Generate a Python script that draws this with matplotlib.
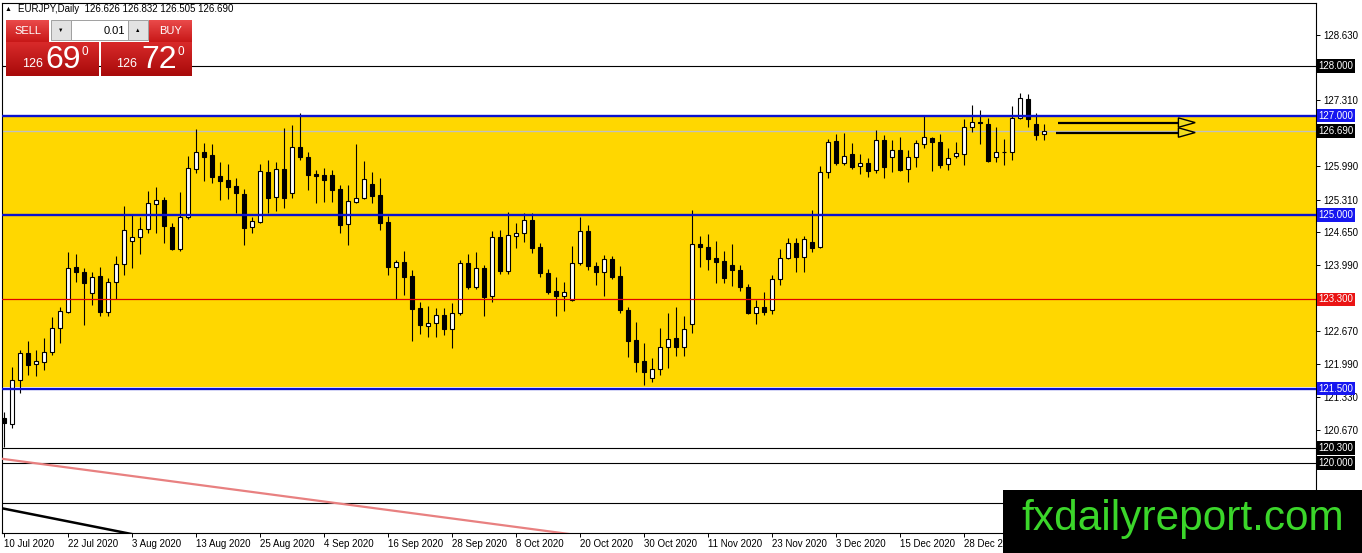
import numpy as np
import matplotlib
matplotlib.use("Agg")
import matplotlib.pyplot as plt
from matplotlib.patches import Rectangle, Polygon
from matplotlib.colors import LinearSegmentedColormap

plt.rcParams['font.family'] = ['Liberation Sans', 'DejaVu Sans']

# EURJPY daily bars, 10 Jul 2020 onwards
opens = [120.90, 120.78, 121.67, 122.21, 121.99, 122.03, 122.23, 122.72, 123.04, 123.95,
         123.85, 123.42, 123.77, 123.04, 123.65, 124.01, 124.47, 124.55, 124.71, 125.22,
         125.30, 124.75, 124.31, 124.96, 125.92, 126.27, 126.21, 125.78, 125.70, 125.58,
         125.42, 124.75, 124.86, 125.86, 125.36, 125.92, 125.44, 126.37, 126.17, 125.83,
         125.80, 125.80, 125.52, 124.81, 125.26, 125.34, 125.62, 125.40, 124.86, 123.95,
         124.05, 123.77, 123.12, 122.76, 122.82, 122.98, 122.70, 123.02, 124.03, 123.54,
         123.93, 123.36, 124.55, 123.87, 124.57, 124.63, 124.89, 124.35, 123.83, 123.46,
         123.36, 123.28, 124.03, 124.67, 123.97, 123.85, 124.11, 123.77, 123.08, 122.48,
         122.05, 121.71, 121.89, 122.33, 122.52, 122.33, 122.80, 124.41, 124.35, 124.13,
         124.07, 123.99, 123.89, 123.54, 123.02, 123.14, 123.08, 123.71, 124.13, 124.43,
         124.15, 124.45, 124.35, 125.86, 126.49, 126.04, 126.23, 125.98, 126.04, 125.90,
         126.51, 126.17, 126.31, 125.92, 126.17, 126.43, 126.55, 126.47, 126.02, 126.19,
         126.23, 126.77, 126.88, 126.83, 126.17, 126.27, 126.27, 126.95, 127.33, 126.83,
         126.626]
highs = [121.02, 121.93, 122.27, 122.46, 122.27, 122.52, 122.94, 123.14, 124.25, 124.21,
         123.93, 123.85, 123.95, 123.73, 124.17, 125.18, 125.00, 124.96, 125.48, 125.56,
         125.36, 124.83, 125.46, 126.19, 126.73, 126.45, 126.43, 126.06, 126.02, 125.74,
         125.52, 124.96, 126.03, 126.10, 126.06, 126.75, 126.81, 127.05, 126.27, 125.90,
         125.94, 125.90, 125.60, 125.60, 126.43, 126.08, 125.86, 125.74, 124.98, 124.09,
         124.27, 123.89, 123.24, 123.16, 123.12, 123.12, 123.22, 124.09, 124.21, 124.25,
         123.99, 124.67, 124.69, 125.06, 124.83, 125.04, 125.04, 124.43, 123.91, 123.75,
         123.65, 124.37, 124.96, 124.79, 124.05, 124.19, 124.17, 123.97, 123.14, 122.84,
         122.42, 122.11, 122.72, 123.02, 123.14, 122.96, 125.10, 124.57, 124.61, 124.47,
         124.27, 124.41, 123.99, 123.60, 123.28, 123.44, 123.79, 124.31, 124.53, 124.53,
         124.57, 125.10, 125.99, 126.53, 126.63, 126.65, 126.45, 126.23, 126.15, 126.71,
         126.61, 126.51, 126.57, 126.31, 126.51, 127.01, 126.57, 126.63, 126.35, 126.47,
         126.93, 127.21, 127.11, 126.95, 126.77, 126.53, 127.19, 127.45, 127.43, 127.05,
         126.832]
lows = [120.32, 120.70, 121.41, 121.77, 121.75, 121.87, 122.17, 122.42, 123.02, 123.65,
        122.78, 123.18, 122.96, 122.96, 123.30, 123.79, 123.93, 124.21, 124.63, 124.63,
        124.43, 124.29, 124.27, 124.92, 125.84, 125.68, 125.64, 125.30, 125.32, 125.04,
        124.39, 124.63, 124.84, 125.04, 125.08, 125.14, 125.34, 126.10, 125.50, 125.24,
        125.26, 125.26, 124.63, 124.39, 125.24, 125.32, 125.24, 124.69, 123.79, 123.30,
        123.38, 122.46, 122.60, 122.54, 122.54, 122.58, 122.31, 122.98, 123.50, 123.50,
        122.96, 123.24, 123.81, 123.81, 124.33, 124.45, 124.23, 123.75, 123.40, 122.96,
        123.06, 123.26, 123.99, 123.89, 123.58, 123.36, 123.71, 123.02, 122.13, 121.83,
        121.57, 121.63, 121.77, 121.91, 122.15, 122.15, 122.62, 123.95, 123.89, 123.63,
        123.63, 123.56, 123.46, 123.00, 122.80, 122.98, 123.00, 123.58, 124.11, 123.85,
        123.85, 124.25, 124.33, 125.74, 126.00, 126.00, 125.92, 125.82, 125.76, 125.84,
        125.74, 125.86, 125.88, 125.66, 125.96, 126.35, 125.88, 125.94, 125.90, 126.15,
        126.00, 126.67, 126.43, 126.06, 126.06, 126.00, 126.11, 126.93, 126.77, 126.51,
        126.505]
closes = [120.80, 121.67, 122.21, 121.97, 122.05, 122.23, 122.72, 123.06, 123.93, 123.85,
          123.63, 123.75, 123.04, 123.65, 124.01, 124.69, 124.55, 124.71, 125.24, 125.30,
          124.77, 124.31, 124.96, 125.94, 126.27, 126.17, 125.76, 125.68, 125.56, 125.44,
          124.73, 124.88, 125.88, 125.34, 125.92, 125.34, 126.37, 126.17, 125.80, 125.79,
          125.70, 125.50, 124.79, 125.28, 125.34, 125.72, 125.38, 124.83, 123.95, 124.05,
          123.75, 123.10, 122.78, 122.82, 122.98, 122.70, 123.02, 124.03, 123.54, 123.93,
          123.34, 124.55, 123.87, 124.59, 124.63, 124.89, 124.33, 123.83, 123.44, 123.36,
          123.44, 124.03, 124.67, 123.97, 123.85, 124.11, 123.75, 123.08, 122.46, 122.03,
          121.83, 121.89, 122.33, 122.50, 122.33, 122.70, 124.41, 124.35, 124.11, 124.05,
          123.73, 123.89, 123.54, 123.02, 123.14, 123.04, 123.71, 124.13, 124.43, 124.15,
          124.51, 124.33, 125.86, 126.47, 126.04, 126.19, 125.96, 126.04, 125.88, 126.51,
          125.96, 126.31, 125.90, 126.17, 126.45, 126.57, 126.47, 126.00, 126.15, 126.25,
          126.77, 126.87, 126.85, 126.08, 126.27, 126.26, 126.95, 127.35, 126.93, 126.61,
          126.690]

date_labels = ["10 Jul 2020", "22 Jul 2020", "3 Aug 2020", "13 Aug 2020", "25 Aug 2020",
               "4 Sep 2020", "16 Sep 2020", "28 Sep 2020", "8 Oct 2020", "20 Oct 2020",
               "30 Oct 2020", "11 Nov 2020", "23 Nov 2020", "3 Dec 2020", "15 Dec 2020",
               "28 Dec 2020"]
price_ticks = [128.63, 127.31, 125.99, 125.31, 124.65, 123.99, 122.67, 121.99, 121.33, 120.67]

zone = (121.5, 127.0)
blue_levels = [127.0, 125.0, 121.5]
black_levels = [128.0, 120.3, 120.0]
red_level = 123.3
bid = 126.69
plain_level = 119.19

# trend lines: (bar, price) anchors
pink_trend = [(0, 120.08), (69.7, 118.59)]
black_trend = [(0, 119.08), (15.3, 118.59)]

# arrows: start bar, end bar, price
arrows = [(131.75, 148.9, 126.86), (131.5, 148.9, 126.66)]

W, H = 1362, 553
fig = plt.figure(figsize=(W / 100, H / 100), dpi=100)
ax = fig.add_axes([2 / W, (H - 533) / H, (1316 - 2) / W, (533 - 3) / H])
ax.set_xlim(-0.25, 164)
ax.set_ylim(118.59, 129.27)

yellow = '#FFD700'
blue = '#0b12cf'
ax.axhspan(zone[0] + 0.03, zone[1], color=yellow, zorder=0, lw=0)

# candles
idx = np.arange(len(opens))
o = np.array(opens)
c = np.array(closes)
up = c >= o
ax.vlines(idx, lows, highs, color='black', lw=0.8, zorder=3)
ax.bar(idx, np.maximum(np.abs(c - o), 0.004), width=0.62, bottom=np.minimum(o, c),
       color=np.where(up, 'white', 'black'), edgecolor='black', linewidth=0.8, zorder=4)

# horizontal levels
ax.axhline(bid, color='#c0c0c0', lw=1.0, zorder=2)
for lv in blue_levels:
    ax.axhline(lv, color=blue, lw=1.7, zorder=5)
for lv in black_levels:
    ax.axhline(lv, color='black', lw=0.8, zorder=5)
ax.axhline(plain_level, color='black', lw=0.8, zorder=5)
ax.axhline(red_level, color='#e00000', lw=0.9, zorder=5)

# trend lines
for (x0, y0), (x1, y1), col, lw in [(pink_trend[0], pink_trend[1], '#e88080', 1.6),
                                      (black_trend[0], black_trend[1], 'black', 1.8)]:
    k = (y1 - y0) / (x1 - x0)
    xs = np.array([-1, 120])
    ax.plot(xs, y0 + k * (xs - x0), color=col, lw=lw, zorder=5, solid_capstyle='butt')

# arrows
for xs, xe, p in arrows:
    ax.plot([xs, xe - 2.0], [p, p], color='black', lw=1.6, zorder=6, solid_capstyle='butt')
    ax.add_patch(Polygon([[xe - 2.1, p + 0.095], [xe, p], [xe - 2.1, p - 0.095]],
                         closed=True, fc='#f0dc20', ec='black', lw=1.0, zorder=7))

# axes styling
for s in ax.spines.values():
    s.set_color('black')
    s.set_linewidth(0.8)
ax.yaxis.tick_right()
ax.set_yticks(price_ticks)
ax.set_yticklabels([f"{t:.3f}" for t in price_ticks])
ax.tick_params(axis='y', direction='out', length=3, width=0.7, labelsize=7, pad=2,
               colors='black')
ax.set_xticks(np.arange(len(date_labels)) * 8)
ax.set_xticklabels(date_labels)
ax.tick_params(axis='x', direction='out', length=3, width=0.7, labelsize=7, pad=1.5)
for lab in ax.get_xticklabels():
    lab.set_ha('left')

# price labels on the right scale
tr = ax.get_yaxis_transform()
def price_tag(p, fc):
    ax.text(1.0018, p, f"{p:.3f}", transform=tr, ha='left', va='center', color='white',
            fontsize=7, zorder=10, clip_on=False,
            bbox=dict(boxstyle='square,pad=0.18', fc=fc, ec='none'))

for lv in black_levels:
    price_tag(lv, 'black')
price_tag(bid, 'black')
for lv in blue_levels:
    price_tag(lv, '#1616f0')
price_tag(red_level, '#ea1414')

# overlay in pixel coordinates: header, trading panel, watermark
ov = fig.add_axes([0, 0, 1, 1])
ov.set_zorder(10)
ov.patch.set_alpha(0)
ov.axis('off')

ov.text(5, 9.5, '▲', fontsize=5, va='center', ha='left')
ov.text(18, 9.5, 'EURJPY,Daily  126.626 126.832 126.505 126.690', fontsize=7,
        va='center', ha='left')


def grad_box(x0, y0, x1, y1, top, bottom):
    cm = LinearSegmentedColormap.from_list('g', [top, bottom])
    ov.imshow(np.linspace(0, 1, 40).reshape(-1, 1), cmap=cm, extent=(x0, x1, y1, y0),
              aspect='auto', interpolation='bilinear', zorder=2)


grad_box(6, 20, 49, 42, '#ea4a4a', '#c81818')
grad_box(149, 20, 192, 42, '#ea4a4a', '#c81818')
grad_box(6, 42, 99, 76, '#d82a2a', '#a80a0a')
grad_box(101, 42, 192, 76, '#d82a2a', '#a80a0a')
ov.add_patch(Rectangle((51, 20), 20, 20, fc='#e2e2e2', ec='#a0a0a0', lw=0.7, zorder=3))
ov.add_patch(Rectangle((71, 20), 57, 20, fc='white', ec='#a0a0a0', lw=0.7, zorder=3))
ov.add_patch(Rectangle((128, 20), 20, 20, fc='#e2e2e2', ec='#a0a0a0', lw=0.7, zorder=3))
ov.text(61, 30, '▼', fontsize=4, ha='center', va='center', zorder=4)
ov.text(138, 30, '▲', fontsize=4, ha='center', va='center', zorder=4)
ov.text(125, 30.5, '0.01', fontsize=8, ha='right', va='center', zorder=4)
ov.text(27.5, 31, 'SELL', fontsize=8, color='white', ha='center', va='center', zorder=4)
ov.text(170.5, 31, 'BUY', fontsize=8, color='white', ha='center', va='center', zorder=4)
for cx, big, small_x, sup_x in [(63.5, '69', 32.5, 84.5), (159, '72', 127, 181)]:
    ov.text(small_x, 64, '126', fontsize=9, color='white', ha='center', va='center', zorder=4)
    ov.text(cx, 59.5, big, fontsize=23, color='white', ha='center', va='center', zorder=4)
    ov.text(sup_x, 52, '0', fontsize=8.5, color='white', ha='center', va='center', zorder=4)

ov.add_patch(Rectangle((1003, 490), W - 1003, H - 490, fc='black', ec='none', zorder=3))
ov.text(1183, 530, 'fxdailyreport.com', fontsize=30.5, color='#3bd62a', ha='center',
        va='baseline', family='Liberation Sans', zorder=4)

ov.set_xlim(0, W)
ov.set_ylim(H, 0)

fig.savefig('out.png', dpi=100)
